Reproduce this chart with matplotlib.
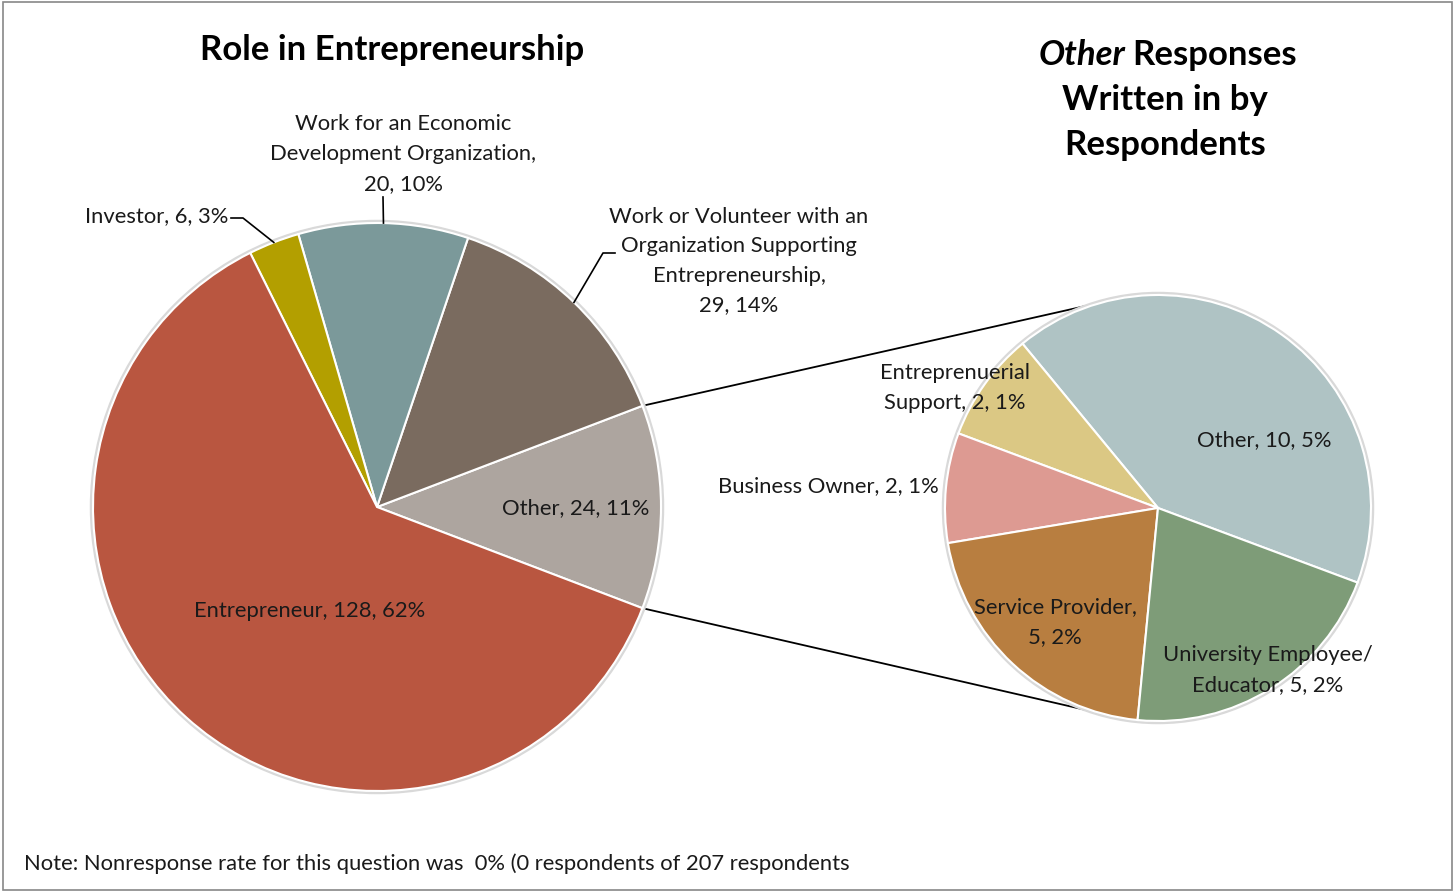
import matplotlib.pyplot as plt
import numpy as np

plt.rcParams['font.family'] = ['Lato', 'DejaVu Sans']

# main pie, counter-clockwise starting with the exploded "Other" slice
main_names = ["Other", "Work or Volunteer with an\nOrganization Supporting\nEntrepreneurship,\n",
              "Work for an Economic\nDevelopment Organization,\n", "Investor", "Entrepreneur"]
main_counts = [24, 29, 20, 6, 128]
main_pcts = [11, 14, 10, 3, 62]
main_colors = ["#ADA59F", "#7A6B5F", "#7B999A", "#B39F00", "#B95640"]

# breakdown of the "Other" answers
other_names = ["Other", "Entreprenuerial\nSupport", "Business Owner", "Service Provider,\n",
               "University Employee/\nEducator"]
other_counts = [10, 2, 2, 5, 5]
other_pcts = [5, 1, 1, 2, 2]
other_colors = ["#AFC3C4", "#DBC884", "#DD9A92", "#B87E40", "#7E9C78"]

W, H = 1455, 893
fig = plt.figure(figsize=(W / 100, H / 100), dpi=100)
ax = fig.add_axes([0, 0, 1, 1])

c1, r1 = (377, H - 507), 284
c2, r2 = (1158, H - 508), 213
start1 = -180 * main_counts[0] / sum(main_counts)
start2 = -20.5

edge = dict(edgecolor='white', linewidth=1.5)
w1, _ = ax.pie(main_counts, colors=main_colors, startangle=start1, counterclock=True,
               center=c1, radius=r1, wedgeprops=edge)
w2, _ = ax.pie(other_counts, colors=other_colors, startangle=start2, counterclock=True,
               center=c2, radius=r2, wedgeprops=edge)
for w in w1 + w2:
    w.set_zorder(2)
for c, r in [(c1, r1), (c2, r2)]:
    ax.add_patch(plt.Circle(c, r + 1.5, fc='none', ec='#d9d9d9', lw=2.5, zorder=1.5))


def on_circle(c, r, deg):
    a = np.deg2rad(deg)
    return c[0] + r * np.cos(a), c[1] + r * np.sin(a)


# connector lines between the two pies
for a1, a2 in [(-start1, 102), (start1, 258)]:
    p, q = on_circle(c1, r1, a1), on_circle(c2, r2, a2)
    ax.plot([p[0], q[0]], [p[1], q[1]], color='black', lw=1.3, zorder=1)

fs = 15.8
lab1 = [f"{n}, {v}, {p}%" if not n.endswith("\n") else f"{n}{v}, {p}%"
        for n, v, p in zip(main_names, main_counts, main_pcts)]
lab2 = [f"{n}, {v}, {p}%" if not n.endswith("\n") else f"{n}{v}, {p}%"
        for n, v, p in zip(other_names, other_counts, other_pcts)]

txt = dict(fontsize=fs, color='#1a1a1a', linespacing=1.6, zorder=5)
pos1 = [(576, 508, 'center'), (739, 261, 'center'), (403, 154, 'center'),
        (228, 216, 'right'), (310, 611, 'center')]
pos2 = [(1264, 440, 'center'), (955, 388, 'center'), (939, 486, 'right'),
        (1055, 622, 'center'), (1268, 670, 'center')]
for s, (x, y, ha) in zip(lab1, pos1):
    ax.text(x, H - y, s, ha=ha, va='center', multialignment='center', **txt)
for s, (x, y, ha) in zip(lab2, pos2):
    ax.text(x, H - y, s, ha=ha, va='center', multialignment='center', **txt)

# leader lines for the outside labels
mids = np.cumsum(main_counts) - np.array(main_counts) / 2
mids = start1 + 360 * mids / sum(main_counts)
leaders = {3: [(231, 218), (243, 218)], 2: [(383, 197)], 1: [(615, 253), (603, 253)]}
for i, pts in leaders.items():
    end = on_circle(c1, r1, mids[i])
    xs = [p[0] for p in pts] + [end[0]]
    ys = [H - p[1] for p in pts] + [end[1]]
    ax.plot(xs, ys, color='black', lw=1.2, zorder=3)

tfs = 25
ax.text(392, H - 50, "Role in Entrepreneurship", ha='center', va='center',
        fontsize=tfs, fontweight='bold')
ax.text(1125, H - 55, "Other", ha='right', va='center', fontsize=tfs,
        fontweight='bold', style='italic')
ax.text(1132, H - 55, "Responses", ha='left', va='center', fontsize=tfs, fontweight='bold')
ax.text(1165, H - 100, "Written in by", ha='center', va='center', fontsize=tfs, fontweight='bold')
ax.text(1165, H - 145, "Respondents", ha='center', va='center', fontsize=tfs, fontweight='bold')

ax.text(24, H - 864, "Note: Nonresponse rate for this question was  0% (0 respondents of 207 respondents",
        ha='left', va='center', fontsize=fs, color='#1a1a1a')

ax.add_patch(plt.Rectangle((3, 3), W - 6, H - 5, fc='none', ec='#888888', lw=1.2))

ax.set_xlim(0, W)
ax.set_ylim(0, H)
ax.set_aspect('equal')
ax.axis('off')

fig.savefig('out.png', dpi=100)
